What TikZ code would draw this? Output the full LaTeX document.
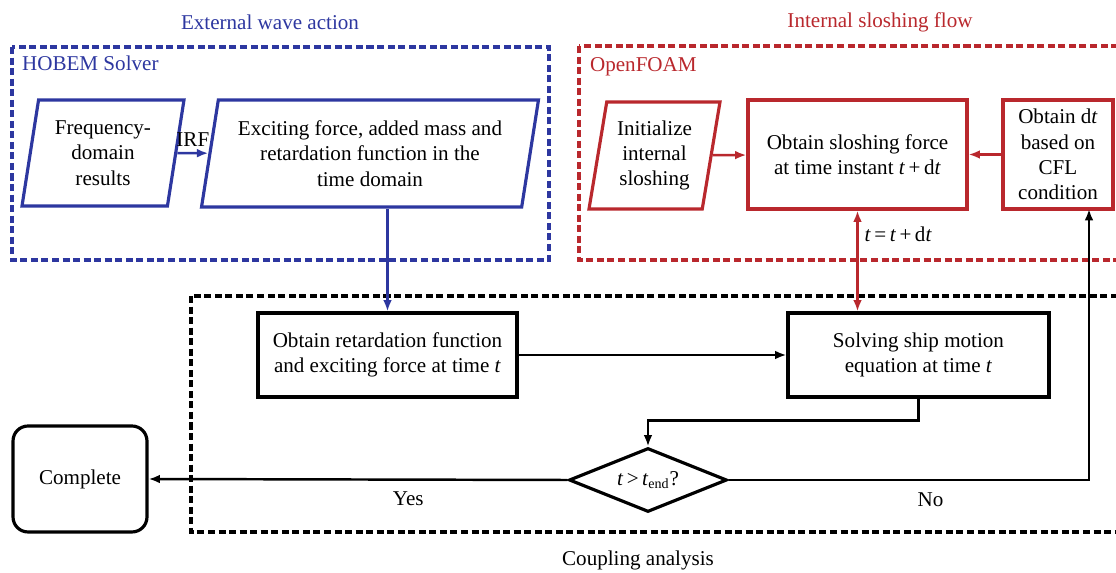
\documentclass[tikz,border=0pt]{standalone}
\usepackage{fontspec}
\setmainfont{Liberation Serif}
\usetikzlibrary{arrows.meta,shapes.geometric,positioning}
\definecolor{wavecol}{RGB}{45,55,160}
\definecolor{slshcol}{RGB}{185,40,45}

\begin{document}
\begin{tikzpicture}[x=0.02cm, y=-0.02cm, line width=1.4pt,
  font=\fontsize{12}{14.4}\selectfont,
  >={Latex[length=6.5pt,width=5pt]},
  frame/.style={line width=2pt, dash pattern=on 4pt off 2pt},
  proc/.style={draw, line width=1.8pt, align=center, inner sep=2pt},
  para/.style={proc, trapezium, trapezium left angle=77, trapezium right angle=103,
    trapezium stretches body},
  decide/.style={proc, diamond, aspect=2.5, inner sep=1pt}]

  \clip (0,0) rectangle (1116,573);

  % ---------- frames ----------
  \draw[frame, wavecol] (12,47) rectangle (549,260);
  \node[wavecol] (wavetitle) at (270,22) {External wave action};
  \node[wavecol, anchor=west] (hobem) at (15,63) {HOBEM Solver};

  \draw[frame, slshcol] (579,46) rectangle (1130,260);
  \node[slshcol] (slshtitle) at (880,22) {Internal sloshing flow};
  \node[slshcol, anchor=west] (foam) at (583,67) {OpenFOAM};

  \draw[frame] (191,296) rectangle (1130,532);
  \node (coupling) at (638,560) {Coupling analysis};

  % ---------- wave side ----------
  \node[para, wavecol, minimum width=3.24cm, minimum height=2.12cm] (freq) at (103,153)
    {\color{black}Frequency-\\\color{black}domain\\\color{black}results};
  \node[para, wavecol, minimum width=6.74cm, minimum height=2.14cm] (exc) at (370,153.5)
    {\color{black}Exciting force, added mass and\\\color{black}retardation function in the\\\color{black}time domain};

  % ---------- sloshing side ----------
  \node[para, slshcol, minimum width=2.62cm, minimum height=2.14cm] (init) at (654.5,155.5)
    {\color{black}Initialize\\\color{black}internal\\\color{black}sloshing};
  \node[proc, slshcol, minimum width=4.38cm, minimum height=2.18cm] (slosh) at (857.5,154.5)
    {\color{black}Obtain sloshing force\\\color{black}at time instant \textit{t}\,+\,d\textit{t}};
  \node[proc, slshcol, minimum width=2.2cm, minimum height=2.18cm] (dt) at (1058,154.5)
    {\color{black}Obtain d\textit{t}\\\color{black}based on\\\color{black}CFL\\\color{black}condition};

  % ---------- coupling ----------
  \node[proc, minimum width=5.18cm, minimum height=1.68cm] (retard) at (387.5,355)
    {Obtain retardation function\\and exciting force at time \textit{t}};
  \node[proc, minimum width=5.22cm, minimum height=1.68cm] (solve) at (918.5,355)
    {Solving ship motion\\equation at time \textit{t}};
  \node[decide, minimum width=3.16cm, minimum height=1.28cm] (test) at (648,480)
    {\textit{t}\,>\,\textit{t}\textsubscript{end}?};
  \node[proc, rounded corners=0.3cm, minimum width=2.68cm, minimum height=2.12cm] (done) at (80,479)
    {Complete};
  \coordinate (dtin) at (1089,209);

  % ---------- connectors ----------
  \draw[wavecol, ->] (freq) -- node[above, black] (irf) {IRF} (exc);
  \draw[wavecol, ->] (exc.south -| retard.north) -- (retard.north);
  \draw[slshcol, ->] (init) -- (slosh);
  \draw[slshcol, ->] (dt) -- (slosh);
  \draw[slshcol, <->] (slosh.south) -- node[pos=0.24, right, black] (step) {\textit{t}\,=\,\textit{t}\,+\,d\textit{t}}
    (slosh.south |- solve.north);
  \draw[->] (retard) -- (solve);
  \draw[->] (solve.south) -- ++(0,22) -| (test.north);
  \draw[->] (test.west) -- node[pos=0.38, below=3pt] (yes) {Yes} (done.east);
  \draw[->] (test.east) -| node[pos=0.28, below=3pt] (no) {No} (dtin);

\end{tikzpicture}
\end{document}
